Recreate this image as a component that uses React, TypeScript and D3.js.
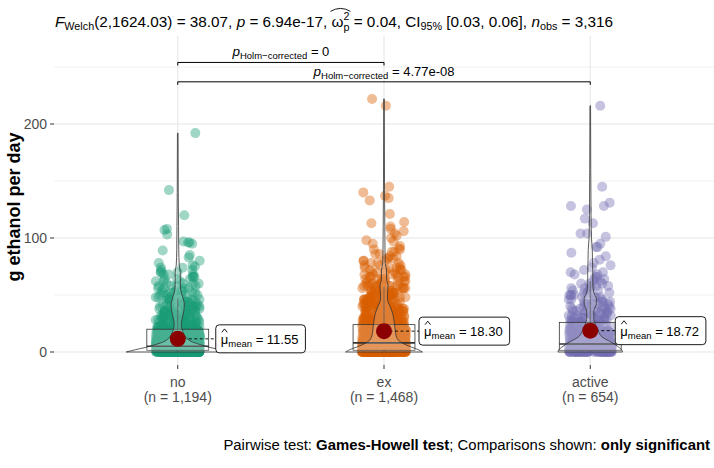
import React, { useEffect, useRef } from 'react';
import * as d3 from 'd3';

const W = 714;
const H = 468;

const categories = ['no', 'ex', 'active'];
const groupCounts = ['1,194', '1,468', '654'];
const colors = ['#1B9E77', '#D95F02', '#7570B3'];
const means = [11.55, 18.3, 18.72];
const meanText = ['11.55', '18.30', '18.72'];

// [lower whisker, q1, median, q3, upper whisker]
const boxNo = [0, 1.5, 5, 20, 47];
const boxEx = [0, 1.5, 8, 24, 57];
const boxActive = [0, 1.5, 7, 26, 62];

// sparse observations (individually visible)
const noSparse = [192, 142, 120, 108, 107, 103, 97, 96, 96, 95, 89, 85, 83, 80, 78, 76, 75];
const exSparse = [222, 216, 145, 140, 137, 135, 133, 121, 114, 113, 110, 108, 106, 104, 102, 100, 98, 97, 95, 93, 91];
const activeSparse = [216, 145, 131, 128, 128, 125, 117, 113, 104, 104, 101, 95, 92, 92, 87, 84, 81, 78, 76, 74, 72];

// dense part: [value, number of observations]
const noDense = [[0, 120], [1, 80], [2, 70], [3, 60], [4, 55], [5, 50], [6, 45], [7, 40], [8, 36], [9, 32], [10, 30], [11, 28], [12, 26], [13, 24], [14, 22], [15, 21], [16, 20], [17, 19], [18, 18], [19, 17], [20, 16], [22, 15], [24, 14], [26, 13], [28, 12], [30, 11], [32, 10], [34, 9], [36, 9], [38, 8], [40, 8], [42, 7], [44, 6], [46, 6], [48, 5], [50, 5], [52, 5], [54, 4], [56, 4], [58, 4], [60, 4], [62, 3], [64, 3], [66, 3], [68, 3], [70, 3], [72, 2], [74, 2]];
const exDense = [[0, 110], [1, 75], [2, 65], [3, 60], [4, 55], [5, 52], [6, 48], [7, 45], [8, 42], [9, 40], [10, 38], [11, 35], [12, 33], [13, 31], [14, 30], [15, 28], [16, 27], [17, 26], [18, 25], [19, 24], [20, 23], [22, 22], [24, 21], [26, 20], [28, 18], [30, 17], [32, 16], [34, 15], [36, 14], [38, 13], [40, 12], [42, 11], [44, 10], [46, 10], [48, 9], [50, 9], [52, 8], [54, 8], [56, 7], [58, 7], [60, 6], [62, 6], [64, 5], [66, 5], [68, 5], [70, 4], [72, 4], [74, 4], [76, 3], [78, 3], [80, 3], [82, 3], [84, 2], [86, 2], [88, 2], [90, 2]];
const activeDense = [[0, 40], [1, 30], [2, 28], [3, 25], [4, 23], [5, 21], [6, 20], [7, 18], [8, 17], [9, 16], [10, 15], [11, 14], [12, 13], [13, 12], [14, 12], [15, 11], [16, 11], [17, 10], [18, 10], [19, 9], [20, 9], [22, 9], [24, 8], [26, 8], [28, 7], [30, 7], [32, 6], [34, 6], [36, 6], [38, 5], [40, 5], [42, 5], [44, 4], [46, 4], [48, 4], [50, 4], [52, 3], [54, 3], [56, 3], [58, 3], [60, 3], [62, 2], [64, 2], [66, 2], [68, 2], [70, 2]];

// violin outline: [value, relative density]
const violinNo = [[0, 51], [2, 42], [4, 32], [6, 24], [9, 14], [13, 8], [18, 5], [24, 3.5], [30, 4.5], [36, 6], [42, 6.5], [48, 5], [54, 3], [62, 2.5], [70, 2.5], [76, 1.5], [90, 1], [110, 0.8], [140, 0.5], [192, 0.3]];
const violinEx = [[0, 38], [2, 34], [5, 25], [9, 16], [14, 12], [20, 11], [27, 10], [34, 8.5], [40, 6], [46, 3.5], [52, 3.5], [58, 4], [64, 2.5], [72, 2.5], [78, 1.2], [90, 1], [110, 0.8], [150, 0.5], [222, 0.3]];
const violinActive = [[0, 32], [2, 31], [5, 27], [9, 20], [13, 12], [18, 8], [24, 5], [30, 3.5], [36, 3.5], [42, 6], [47, 6], [52, 3.5], [60, 2.5], [70, 2.5], [80, 2.2], [90, 2], [100, 1.2], [120, 0.8], [160, 0.5], [216, 0.3]];

const yTicks = [0, 100, 200];
const yMinor = [50, 150, 250];
// comparisons: [group a, group b, p label]
const comparisons = [['no', 'ex', '0'], ['no', 'active', '4.77e-08']];
const bracketLevels = [254, 237];

const labelNudge = [38, 35, 25];

interface Piece { t: string; s: number; dy?: number; it?: boolean; b?: boolean; hat?: string; keep?: boolean; }

function rich(parent: any, pieces: Piece[], x: number, y: number, anchor: string, fill: string) {
  const g = parent.append('g');
  let cx = 0;
  let keepW = -1;
  for (const p of pieces) {
    const t = g.append('text')
      .attr('x', cx).attr('y', p.dy || 0)
      .attr('font-size', p.s)
      .attr('font-style', p.it ? 'italic' : 'normal')
      .attr('font-weight', p.b ? 'bold' : 'normal')
      .attr('fill', fill)
      .attr('xml:space', 'preserve')
      .style('white-space', 'pre')
      .text(p.t);
    const w = (t.node() as SVGTextElement).getComputedTextLength();
    if (p.hat === 'arc') {
      const x0 = cx - 1, x1 = cx + w + 7, yy = -p.s * 1.02;
      g.append('path').attr('d', `M${x0},${yy} Q${(x0 + x1) / 2},${yy - 6} ${x1},${yy}`)
        .attr('fill', 'none').attr('stroke', fill).attr('stroke-width', 0.9);
    } else if (p.hat === 'caret') {
      const x0 = cx + 1, x1 = cx + w - 1, yy = -p.s * 0.88;
      g.append('path').attr('d', `M${x0},${yy} L${(x0 + x1) / 2},${yy - 3.5} L${x1},${yy}`)
        .attr('fill', 'none').attr('stroke', fill).attr('stroke-width', 0.9);
    }
    if (p.keep) { keepW = w; continue; }
    if (keepW >= 0) { cx += Math.max(w, keepW); keepW = -1; } else cx += w;
  }
  const shift = anchor === 'middle' ? -cx / 2 : anchor === 'end' ? -cx : 0;
  g.attr('transform', `translate(${x + shift},${y})`);
  return { g, width: cx, left: x + shift };
}

export default function App() {
  const ref = useRef<SVGSVGElement>(null);
  useEffect(() => {
    const svg = d3.select(ref.current);
    svg.selectAll('*').remove();
    const panel = { l: 54, r: 714, t: 36, b: 365 };
    const x = d3.scalePoint<string>().domain(categories).range([panel.l, panel.r]).padding(0.6);
    const step = x.step();
    const y = d3.scaleLinear().domain([0, 250]).range([352, 67]);

    // grid
    const grid = svg.append('g');
    grid.selectAll('.mn').data(yMinor).join('line')
      .attr('x1', panel.l).attr('x2', panel.r).attr('y1', d => y(d)).attr('y2', d => y(d))
      .attr('stroke', '#F2F2F2').attr('stroke-width', 1);
    grid.selectAll('.mj').data(yTicks).join('line')
      .attr('x1', panel.l).attr('x2', panel.r).attr('y1', d => y(d)).attr('y2', d => y(d))
      .attr('stroke', '#E6E6E6').attr('stroke-width', 1.1);
    grid.selectAll('.vx').data(categories).join('line')
      .attr('x1', d => x(d)!).attr('x2', d => x(d)!).attr('y1', panel.t).attr('y2', panel.b)
      .attr('stroke', '#E6E6E6').attr('stroke-width', 1.1);

    // points
    const sparse = [noSparse, exSparse, activeSparse];
    const dense = [noDense, exDense, activeDense];
    const pts = svg.append('g');
    categories.forEach((c, i) => {
      const rng = d3.randomLcg(0.13 + i * 0.29);
      const vals: number[] = [];
      dense[i].forEach(([v, n]) => { for (let k = 0; k < n; k++) vals.push(v); });
      sparse[i].forEach(v => vals.push(v));
      const cx = x(c)!;
      const half = step * 0.107;
      vals.forEach(v => {
        pts.append('circle')
          .attr('cx', cx + (rng() * 2 - 1) * half)
          .attr('cy', y(v))
          .attr('r', 5)
          .attr('fill', colors[i])
          .attr('fill-opacity', 0.42);
      });
    });

    // boxplots
    const boxes = [boxNo, boxEx, boxActive];
    const bw = step * 0.3;
    const bg = svg.append('g').attr('stroke', '#333').attr('fill', 'white').attr('fill-opacity', 0.2);
    categories.forEach((c, i) => {
      const [lo, q1, md, q3, hi] = boxes[i];
      const cx = x(c)!;
      bg.append('line').attr('x1', cx).attr('x2', cx).attr('y1', y(q3)).attr('y2', y(hi)).attr('stroke-width', 0.8);
      bg.append('line').attr('x1', cx).attr('x2', cx).attr('y1', y(q1)).attr('y2', y(lo)).attr('stroke-width', 0.8);
      bg.append('rect').attr('x', cx - bw / 2).attr('width', bw).attr('y', y(q3)).attr('height', y(q1) - y(q3)).attr('stroke-width', 0.8);
      bg.append('line').attr('x1', cx - bw / 2).attr('x2', cx + bw / 2).attr('y1', y(md)).attr('y2', y(md)).attr('stroke-width', 1.6);
    });

    // violins
    const violins = [violinNo, violinEx, violinActive];
    const maxD = d3.max(violins.flat(), d => d[1])!;
    const ws = d3.scaleLinear().domain([0, maxD]).range([0, step * 0.25]);
    const vg = svg.append('g');
    categories.forEach((c, i) => {
      const cx = x(c)!;
      const area = d3.area<number[]>()
        .y(d => y(d[0]))
        .x0(d => cx - ws(d[1]))
        .x1(d => cx + ws(d[1]))
        .curve(d3.curveMonotoneY);
      vg.append('path').attr('d', area(violins[i] as number[][])!)
        .attr('fill', 'white').attr('fill-opacity', 0.2)
        .attr('stroke', '#333').attr('stroke-width', 0.8);
    });

    // mean points, segments and labels
    const mg = svg.append('g');
    categories.forEach((c, i) => {
      const cx = x(c)!;
      const my = y(means[i]);
      const lx = cx + labelNudge[i];
      mg.append('line').attr('x1', cx).attr('x2', lx).attr('y1', my).attr('y2', my)
        .attr('stroke', 'black').attr('stroke-width', 0.9).attr('stroke-dasharray', '3,2.5');
      mg.append('circle').attr('cx', cx).attr('cy', my).attr('r', 8).attr('fill', '#8B0000');
      const lab = rich(mg, [
        { t: 'μ', s: 13, hat: 'caret' },
        { t: 'mean', s: 9.5, dy: 3 },
        { t: ' = ' + meanText[i], s: 13 },
      ], lx + 5, my + 5, 'start', 'black');
      mg.insert('rect', () => lab.g.node())
        .attr('x', lx).attr('y', my - 14).attr('width', lab.width + 12).attr('height', 28)
        .attr('rx', 3.5).attr('fill', 'white').attr('stroke', 'black').attr('stroke-width', 0.9);
    });

    // brackets
    const brg = svg.append('g');
    comparisons.forEach(([a, b, p], i) => {
      const x0 = x(a)!, x1 = x(b)!, by = y(bracketLevels[i]);
      brg.append('path').attr('d', `M${x0},${by + 3} L${x0},${by} L${x1},${by} L${x1},${by + 3}`)
        .attr('fill', 'none').attr('stroke', 'black').attr('stroke-width', 1);
      rich(brg, [
        { t: 'p', s: 13.5, it: true },
        { t: 'Holm\u2212corrected', s: 9.5, dy: 3 },
        { t: ' = ' + p, s: 13 },
      ], (x0 + x1) / 2, by - 6, 'middle', 'black');
    });

    // axes
    const ax = svg.append('g');
    ax.selectAll('.yt').data(yTicks).join('line')
      .attr('x1', panel.l - 4).attr('x2', panel.l).attr('y1', d => y(d)).attr('y2', d => y(d))
      .attr('stroke', '#333').attr('stroke-width', 1);
    ax.selectAll('.yl').data(yTicks).join('text')
      .attr('x', panel.l - 7).attr('y', d => y(d)).attr('dy', '0.35em')
      .attr('text-anchor', 'end').attr('font-size', 14).attr('fill', '#4D4D4D')
      .text(d => d3.format('d')(d));
    ax.selectAll('.xt').data(categories).join('line')
      .attr('x1', d => x(d)!).attr('x2', d => x(d)!).attr('y1', panel.b).attr('y2', panel.b + 4)
      .attr('stroke', '#333').attr('stroke-width', 1);
    categories.forEach((c, i) => {
      ax.append('text').attr('x', x(c)!).attr('y', 387).attr('text-anchor', 'middle')
        .attr('font-size', 14).attr('fill', '#4D4D4D').text(c);
      ax.append('text').attr('x', x(c)!).attr('y', 402).attr('text-anchor', 'middle')
        .attr('font-size', 14).attr('fill', '#4D4D4D').text(`(n = ${groupCounts[i]})`);
    });
    svg.append('text').attr('transform', 'translate(20,207) rotate(-90)')
      .attr('text-anchor', 'middle').attr('font-size', 18).attr('font-weight', 'bold')
      .attr('fill', 'black').text('g ethanol per day');

    // title
    rich(svg, [
      { t: 'F', s: 15.3, it: true },
      { t: 'Welch', s: 10.8, dy: 3 },
      { t: '(2,1624.03) = 38.07, ', s: 15.3 },
      { t: 'p', s: 15.3, it: true },
      { t: ' = 6.94e-17, ', s: 15.3 },
      { t: 'ω', s: 15.3, hat: 'arc' },
      { t: '2', s: 10.8, dy: -7, keep: true },
      { t: 'p', s: 10.8, dy: 4 },
      { t: ' = 0.04, CI', s: 15.3 },
      { t: '95%', s: 10.8, dy: 3 },
      { t: ' [0.03, 0.06], ', s: 15.3 },
      { t: 'n', s: 15.3, it: true },
      { t: 'obs', s: 10.8, dy: 3 },
      { t: ' = 3,316', s: 15.3 },
    ], 55, 27, 'start', 'black');

    // caption
    rich(svg, [
      { t: 'Pairwise test: ', s: 14.9 },
      { t: 'Games-Howell test', s: 14.9, b: true },
      { t: '; Comparisons shown: ', s: 14.9 },
      { t: 'only significant', s: 14.9, b: true },
    ], 710, 450, 'end', 'black');
  }, []);

  return (
    <svg ref={ref} width={W} height={H}
      style={{ position: 'absolute', left: 0, top: 0, background: 'white', fontFamily: 'Liberation Sans, Arial, sans-serif' }} />
  );
}
